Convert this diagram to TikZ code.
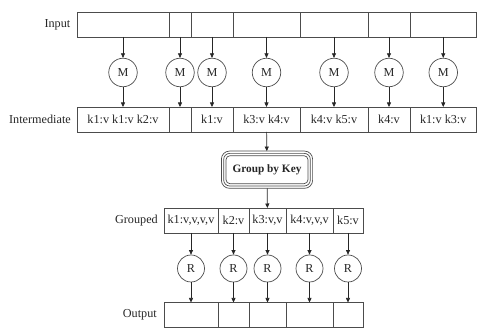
\documentclass[tikz,border=0pt]{standalone}
\usepackage{fontspec}
\setmainfont{Liberation Serif}
\usetikzlibrary{arrows.meta,calc}
\begin{document}
\begin{tikzpicture}[x=1pt,y=-1pt,
  every node/.style={font=\fontsize{12.2}{14}\selectfont, text=black!85},
  cell/.style={draw=black!70, line width=0.7pt, rectangle, minimum height=25, inner sep=0pt, outer sep=0pt},
  mnode/.style={draw=black!70, line width=0.7pt, circle, minimum size=28.5, inner sep=0pt},
  rnode/.style={draw=black!70, line width=0.7pt, circle, minimum size=27, inner sep=0pt},
  lbl/.style={anchor=east, inner sep=0pt},
  arr/.style={draw=black!85, line width=0.7pt, -{Triangle[length=4.5pt,width=4pt]}},
  gbox/.style={draw=black!70, line width=0.7pt, rounded corners=4, minimum width=82, minimum height=28, inner sep=0pt, outer sep=4.6pt, font=\fontsize{11.3}{13}\selectfont\bfseries}
]
\useasboundingbox (0,0) rectangle (477,328);
% Input row
\node[cell, minimum width=92] (i1) at (123,24.5) {};
\node[cell, minimum width=22] (i2) at (180,24.5) {};
\node[cell, minimum width=42] (i3) at (212,24.5) {};
\node[cell, minimum width=67] (i4) at (266.5,24.5) {};
\node[cell, minimum width=68] (i5) at (334,24.5) {};
\node[cell, minimum width=42] (i6) at (389,24.5) {};
\node[cell, minimum width=66.5] (i7) at (443.25,24.5) {};
\node[lbl] (lin) at (70.5,24.5) {Input};
% Map nodes
\node[mnode] (m1) at (123,72.5) {M};
\node[mnode] (m2) at (180,72.5) {M};
\node[mnode] (m3) at (212,72.5) {M};
\node[mnode] (m4) at (266.5,72.5) {M};
\node[mnode] (m5) at (334,72.5) {M};
\node[mnode] (m6) at (389,72.5) {M};
\node[mnode] (m7) at (443.25,72.5) {M};
% Intermediate row
\node[cell, minimum width=92] (n1) at (123,119.5) {k1:v k1:v k2:v};
\node[cell, minimum width=22] (n2) at (180,119.5) {};
\node[cell, minimum width=42] (n3) at (212,119.5) {k1:v};
\node[cell, minimum width=67] (n4) at (266.5,119.5) {k3:v k4:v};
\node[cell, minimum width=68] (n5) at (334,119.5) {k4:v k5:v};
\node[cell, minimum width=42] (n6) at (389,119.5) {k4:v};
\node[cell, minimum width=66.5] (n7) at (443.25,119.5) {k1:v k3:v};
\node[lbl] (lint) at (71,119.5) {Intermediate};
\foreach \k in {1,...,7} {
  \draw[arr] (i\k) -- (m\k);
  \draw[arr] (m\k) -- (n\k);
}
% Group by key
\node[gbox] (g) at (267,169.7) {Group by Key};
\draw[draw=black!70, line width=0.7pt, rounded corners=6] ($(g.north west)+(2.3,2.3)$) rectangle ($(g.south east)+(-2.3,-2.3)$);
\draw[draw=black!70, line width=0.7pt, rounded corners=8] (g.north west) rectangle (g.south east);
% Grouped row
\node[cell, minimum width=54] (g1) at (191,220.5) {k1:v,v,v,v};
\node[cell, minimum width=31] (g2) at (233.5,220.5) {k2:v};
\node[cell, minimum width=37] (g3) at (267.5,220.5) {k3:v,v};
\node[cell, minimum width=47] (g4) at (309.5,220.5) {k4:v,v,v};
\node[cell, minimum width=30] (g5) at (348,220.5) {k5:v};
\node[lbl] (lgr) at (158,220.5) {Grouped};
\draw[arr] (n4) -- (g);
\draw[arr] (g) -- (g3);
% Reduce nodes
\node[rnode] (r1) at (191,268.5) {R};
\node[rnode] (r2) at (233.5,268.5) {R};
\node[rnode] (r3) at (267.5,268.5) {R};
\node[rnode] (r4) at (309.5,268.5) {R};
\node[rnode] (r5) at (348,268.5) {R};
% Output row
\node[cell, minimum width=54] (o1) at (191,315) {};
\node[cell, minimum width=31] (o2) at (233.5,315) {};
\node[cell, minimum width=37] (o3) at (267.5,315) {};
\node[cell, minimum width=47] (o4) at (309.5,315) {};
\node[cell, minimum width=30] (o5) at (348,315) {};
\node[lbl] (lout) at (157,315) {Output};
\foreach \k in {1,...,5} {
  \draw[arr] (g\k) -- (r\k);
  \draw[arr] (r\k) -- (o\k);
}
\end{tikzpicture}
\end{document}
